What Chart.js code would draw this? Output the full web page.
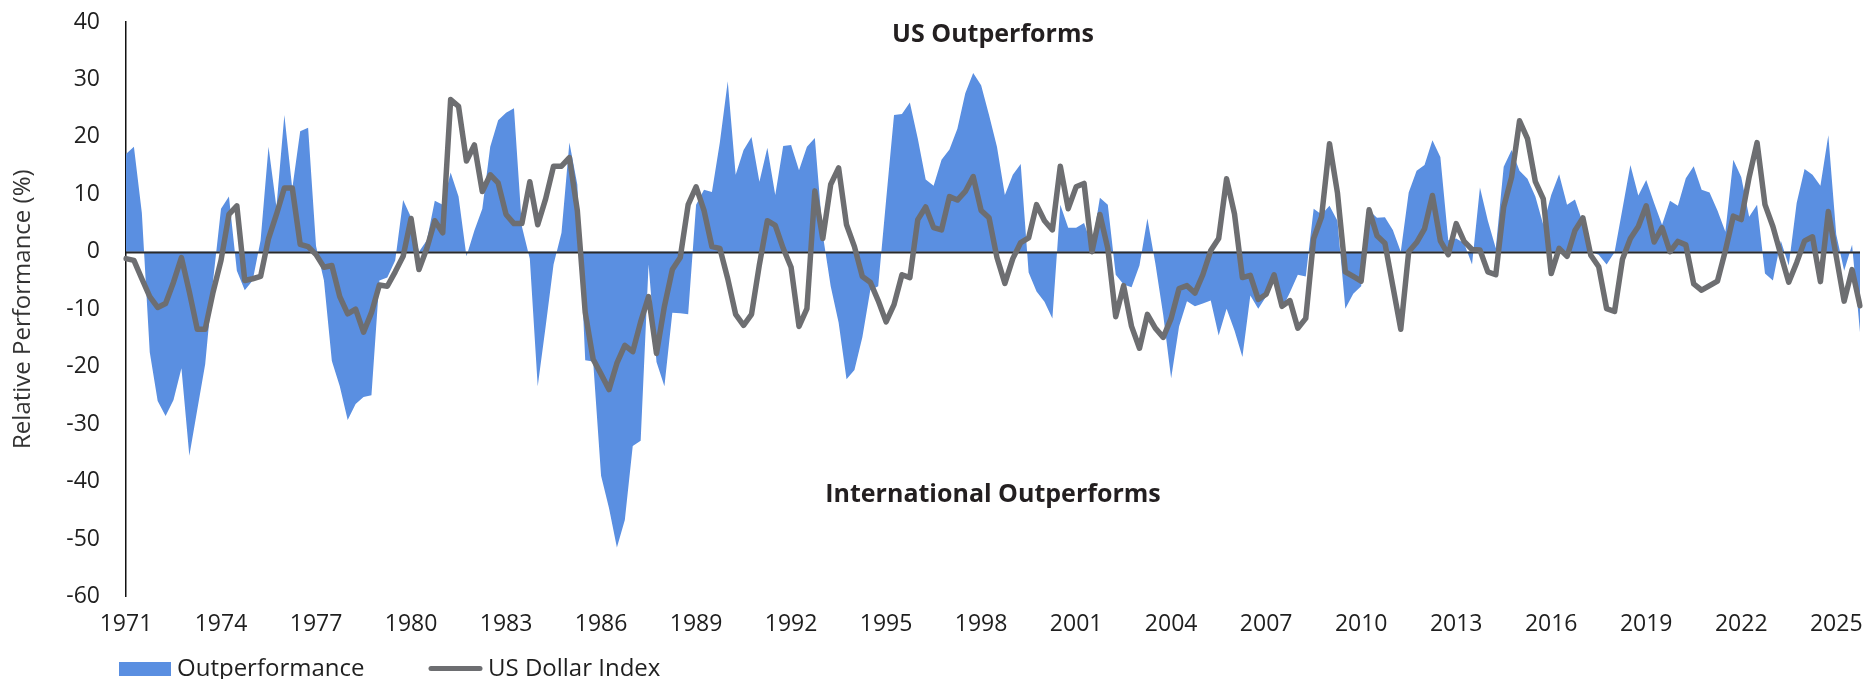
<!DOCTYPE html>
<html>
<head>
<meta charset="utf-8">
<title>US vs International Outperformance</title>
<script src="https://cdn.jsdelivr.net/npm/chart.js@4.4.1/dist/chart.umd.min.js"></script>
<style>
  html, body { margin: 0; padding: 0; background: #fff; }
  #wrap { width: 1865px; height: 679px; position: relative; }
</style>
</head>
<body>
<div id="wrap"><canvas id="chartPerf"></canvas></div>
<script>
// quarterly data, 1971 Q1 .. 2025 Q4
const firstYear = 1971;
const lastYear = 2025;
const tickEvery = 12; // one label every 3 years

const outperformance = [
  17, 18.3, 6.8, -17.5, -26, -28.6, -25.8, -20.3, -35.5, -27.5,
  -19.6, -5, 7.5, 9.6, -3.3, -6.7, -5, 2, 18.3, 7.8,
  23.8, 11, 21, 21.6, 1, -5, -19, -23.4, -29.3, -26.5,
  -25.3, -25, -5, -4.5, -1.5, 9, 6, 0, 2, 8.9,
  8.2, 13.8, 9.6, -0.8, 3.7, 7.5, 18.3, 22.9, 24.2, 25,
  4.4, -1.2, -23.4, -13, -2.2, 3.3, 19, 11.7, -18.9, -19.1,
  -39, -44.6, -51.5, -46.7, -33.8, -32.9, -2.2, -19.2, -23.4, -10.6,
  -10.7, -10.9, 8.2, 10.8, 10.4, 19, 29.7, 13.4, 17.7, 20,
  12.2, 18.1, 9.9, 18.4, 18.6, 14.2, 18.3, 19.8, 3, -6,
  -12.3, -22.2, -20.6, -14.9, -6.7, -6, 9, 23.8, 24, 26,
  19.7, 12.6, 11.5, 16, 17.8, 21.4, 27.6, 31.1, 29, 23.8,
  18.3, 9.9, 13.4, 15.3, -3.6, -6.9, -8.7, -11.6, 8.2, 4.2,
  4.2, 5, 1, 9.4, 8.2, -4, -5.7, -6.2, -2.4, 5.8,
  -2, -11, -22, -13, -8.6, -9.5, -9, -8.5, -14.6, -9.9,
  -13.7, -18.3, -7.6, -9.9, -7.8, -4, -9.9, -7.1, -4, -4.3,
  7.5, 6.5, 8, 5.4, -9.9, -7.3, -6, 7.2, 5.9, 6,
  3.8, 0, 10.3, 14.1, 15.1, 19.4, 16.5, 2, 2.3, 1.5,
  -2.2, 11.2, 5.4, 0.6, 14.8, 17.7, 14.1, 12.7, 9.6, 4.7,
  9.9, 13.5, 8.2, 9.1, 5, 0, -0.5, -2.2, -0.1, 7.5,
  15.1, 9.8, 12.5, 8.5, 4.7, 8.9, 8, 12.8, 14.9, 10.8,
  10.3, 7.2, 3.5, 16, 13, 6.1, 8.2, -3.8, -5, 1.9,
  -2.4, 8.5, 14.4, 13.4, 11.5, 20.3, 3, -3.3, 1.2, -14
];

const dollarIndex = [
  -1.2, -1.5, -4.7, -7.8, -9.7, -9, -5.3, -1, -7, -13.5,
  -13.5, -7, -1.5, 6.5, 8, -5, -4.7, -4.3, 2.3, 6.5,
  11.1, 11.1, 1.3, 0.9, -0.5, -2.7, -2.4, -7.8, -10.8, -10,
  -14, -10.6, -5.8, -6, -3.5, -0.8, 5.8, -3.1, 0.6, 5.4,
  3.3, 26.5, 25.3, 15.8, 18.6, 10.5, 13.4, 12, 6.5, 4.9,
  4.9, 12.2, 4.7, 9.2, 14.9, 14.9, 16.4, 7.2, -10.6, -18.7,
  -21.3, -24, -19.4, -16.3, -17.4, -12.2, -7.8, -17.7, -9.5, -3.1,
  -1, 8.2, 11.3, 7.2, 0.9, 0.6, -4.7, -10.9, -12.8, -10.9,
  -2.2, 5.4, 4.6, 0.6, -2.7, -13, -9.9, 10.6, 2.3, 11.7,
  14.6, 4.7, 0.9, -4.3, -5.3, -8.5, -12.2, -9.2, -4, -4.5,
  5.6, 7.8, 4.2, 3.8, 9.6, 9, 10.5, 13.1, 7.2, 5.9,
  -1, -5.5, -1.2, 1.6, 2.4, 8.2, 5.4, 3.8, 14.9, 7.5,
  11.3, 11.9, 0, 6.5, 0.6, -11.3, -5.9, -13, -16.8, -10.9,
  -13.3, -14.9, -11.6, -6.4, -5.9, -7.2, -4, 0.2, 2.3, 12.7,
  6.6, -4.5, -4.1, -8.3, -7.4, -4, -9.5, -8.5, -13.3, -11.6,
  2.3, 6.1, 18.8, 10.3, -3.5, -4.3, -5.1, 7.3, 2.8, 1.5,
  -6, -13.5, 0, 1.6, 4, 9.8, 1.9, -0.5, 4.9, 1.8,
  0.4, 0.3, -3.5, -4, 7.8, 13, 22.8, 19.7, 12.2, 9.2,
  -3.8, 0.6, -0.8, 3.7, 5.9, -0.6, -2.6, -9.9, -10.4, -1.3,
  2.3, 4.4, 8, 1.7, 4.2, 0, 1.8, 1.2, -5.6, -6.7,
  -5.9, -5.1, 0.2, 6.2, 5.6, 13, 19, 8.2, 4.4, -0.5,
  -5.3, -1.9, 1.9, 2.6, -5.2, 7, -0.8, -8.6, -3.1, -9.4
];

const quarters = [];
for (let yr = firstYear; yr <= lastYear; yr++) {
  for (let q = 1; q <= 4; q++) quarters.push(yr + ' Q' + q);
}

const FONT = "'Open Sans', 'Noto Sans', sans-serif";
const BLUE = '#5a8fe1';
const GREY = '#6d6e71';
const TEXT = '#1f1f1f';

// zero line between the area and the dollar line, plus the two region labels and the legend
const extras = {
  id: 'extras',
  afterDatasetDraw(chart, args) {
    if (args.index !== 0) return;
    const { ctx, chartArea, scales } = chart;
    const y0 = Math.round(scales.y.getPixelForValue(0)) + 0.5;
    ctx.save();
    ctx.strokeStyle = '#2a2a2a';
    ctx.lineWidth = 2;
    ctx.beginPath();
    ctx.moveTo(chartArea.left, y0);
    ctx.lineTo(chartArea.right, y0);
    ctx.stroke();
    ctx.restore();
  },
  afterDraw(chart) {
    const { ctx, chartArea, scales } = chart;
    const cx = (chartArea.left + chartArea.right) / 2;
    ctx.save();
    ctx.fillStyle = '#231f20';
    ctx.font = 'bold 25px ' + FONT;
    ctx.textAlign = 'center';
    ctx.textBaseline = 'middle';
    ctx.fillText('US Outperforms', cx, scales.y.getPixelForValue(37.8));
    ctx.fillText('International Outperforms', cx, scales.y.getPixelForValue(-42.4));

    // legend
    ctx.fillStyle = BLUE;
    ctx.fillRect(119, 662, 52, 14);
    ctx.strokeStyle = GREY;
    ctx.lineWidth = 5;
    ctx.lineCap = 'round';
    ctx.beginPath();
    ctx.moveTo(431, 668.5);
    ctx.lineTo(480, 668.5);
    ctx.stroke();
    ctx.fillStyle = TEXT;
    ctx.font = '24px ' + FONT;
    ctx.textAlign = 'left';
    ctx.textBaseline = 'alphabetic';
    ctx.fillText('Outperformance', 177, 676);
    ctx.fillText('US Dollar Index', 488, 676);
    ctx.restore();
  }
};

new Chart(document.getElementById('chartPerf'), {
  type: 'line',
  data: {
    labels: quarters,
    datasets: [
      {
        label: 'Outperformance',
        data: outperformance,
        fill: 'origin',
        backgroundColor: BLUE,
        borderColor: 'rgba(0,0,0,0)',
        borderWidth: 0,
        pointRadius: 0,
        tension: 0,
        order: 2
      },
      {
        label: 'US Dollar Index',
        data: dollarIndex,
        fill: false,
        borderColor: GREY,
        borderWidth: 5.5,
        borderJoinStyle: 'round',
        borderCapStyle: 'round',
        pointRadius: 0,
        tension: 0,
        order: 1
      }
    ]
  },
  options: {
    responsive: true,
    maintainAspectRatio: false,
    animation: false,
    layout: { padding: { left: 0, right: 5, top: 22, bottom: 27 } },
    plugins: {
      legend: { display: false },
      tooltip: { enabled: false }
    },
    scales: {
      x: {
        offset: false,
        afterFit: (scale) => { scale.paddingLeft = 0; scale.paddingRight = 0; },
        grid: { display: false, drawTicks: false },
        border: { display: false },
        ticks: {
          autoSkip: false,
          maxRotation: 0,
          minRotation: 0,
          padding: 14,
          color: TEXT,
          font: { size: 23, family: FONT },
          callback: (val, idx) => idx % tickEvery === 0 ? quarters[idx].slice(0, 4) : ''
        }
      },
      y: {
        min: -60,
        max: 40,
        afterFit: (scale) => {
          scale.width = 126;
          scale.paddingTop = 0;
          scale.paddingBottom = 0;
        },
        grid: { display: false, drawTicks: false },
        border: { display: true, color: '#111', width: 1.5 },
        ticks: {
          stepSize: 10,
          padding: 26,
          color: TEXT,
          font: { size: 23, family: FONT }
        },
        title: {
          display: true,
          text: 'Relative Performance (%)',
          color: '#333',
          padding: { top: 9, bottom: 0 },
          font: { size: 24, family: FONT }
        }
      }
    }
  },
  plugins: [extras]
});
</script>
</body>
</html>
